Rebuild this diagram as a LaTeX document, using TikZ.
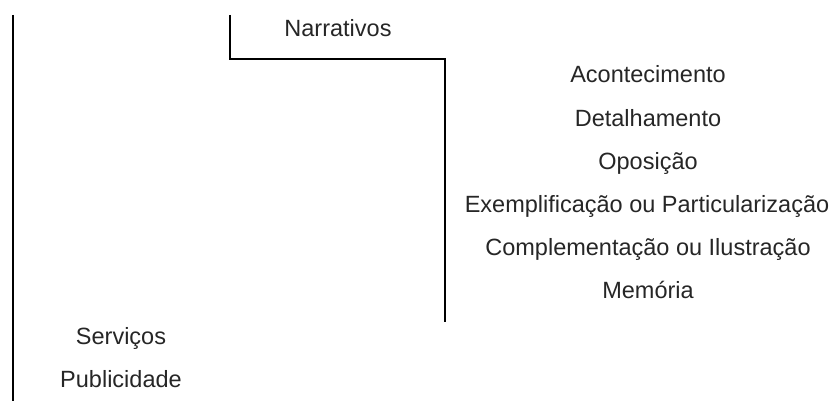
\documentclass[tikz,border=0pt]{standalone}
\usepackage{fontspec}
\setmainfont{Liberation Sans}
\begin{document}
\begin{tikzpicture}[x=1pt,y=-1pt,
  lbl/.style={anchor=base,inner sep=0pt,font=\fontsize{23.5}{28}\selectfont,text=black!85},
  bracket/.style={draw=black,line width=2pt}]
\useasboundingbox (0,0) rectangle (837,401);
% labels
\node[lbl] (narr) at (338,37) {Narrativos};
\node[lbl] (acon) at (648,83) {Acontecimento};
\node[lbl] (deta) at (648,126) {Detalhamento};
\node[lbl] (opos) at (648,169) {Oposição};
\node[lbl] (exem) at (647,212) {Exemplificação ou Particularização};
\node[lbl] (comp) at (648,255) {Complementação ou Ilustração};
\node[lbl] (memo) at (648,298) {Memória};
\node[lbl] (serv) at (121,344) {Serviços};
\node[lbl] (publ) at (121,387) {Publicidade};
% bracket lines
\coordinate (l1) at (13,15);
\coordinate (l2) at (13,401);
\coordinate (m1) at (230,15);
\coordinate (m2) at (230,59);
\coordinate (m3) at (445,59);
\coordinate (m4) at (445,322);
\draw[bracket] (l1) -- (l2);
\draw[bracket] (m1) -- (m2) -- (m3) -- (m4);
\end{tikzpicture}
\end{document}
